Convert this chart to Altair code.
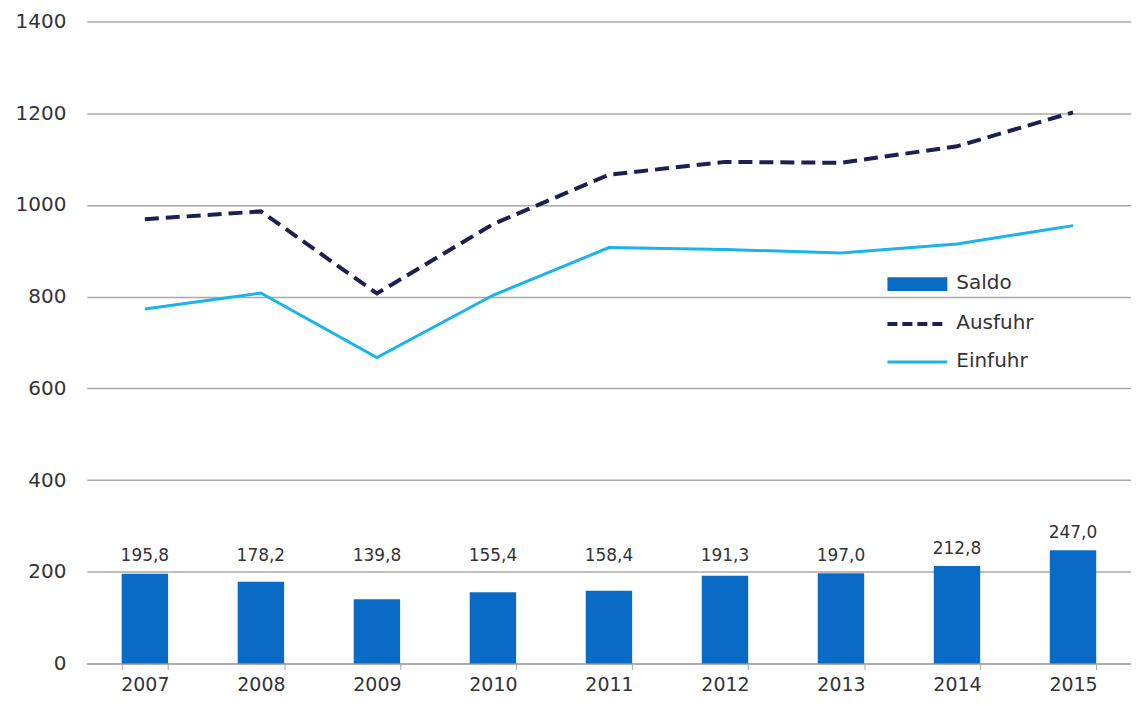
import altair as alt
import pandas as pd

years = ["2007", "2008", "2009", "2010", "2011", "2012", "2013", "2014", "2015"]
saldo = [195.8, 178.2, 139.8, 155.4, 158.4, 191.3, 197.0, 212.8, 247.0]
ausfuhr = [969, 986, 807, 958, 1066, 1094, 1092, 1128, 1202]
einfuhr = [773, 808, 667, 803, 907, 903, 895, 915, 955]
legend_labels = ["Saldo", "Ausfuhr", "Einfuhr"]

bar_color = "#0a6bc6"
aus_color = "#1c1f52"
ein_color = "#1ab3ee"
grid_color = "#a8a8a8"
text_color = "#333333"
font = "DejaVu Sans"

df = pd.DataFrame({"Jahr": years, "Saldo": saldo, "Ausfuhr": ausfuhr, "Einfuhr": einfuhr})

x_enc = alt.X(
    "Jahr:N",
    title=None,
    scale=alt.Scale(paddingInner=0.6, paddingOuter=0.3),
    axis=alt.Axis(
        labelAngle=0, tickBand="extent", grid=False, domainColor=grid_color,
        domainWidth=1.5, tickColor=grid_color, tickSize=6, labelPadding=6,
        labelFontSize=19, labelColor=text_color, labelFont=font,
    ),
)
y_scale = alt.Scale(domain=[0, 1400])
y_axis = alt.Axis(
    values=[0, 200, 400, 600, 800, 1000, 1200, 1400], format="d", grid=True,
    gridColor=grid_color, gridWidth=1.5, domain=False, ticks=False, labelPadding=21,
    labelFontSize=20, labelColor=text_color, labelFont=font, title=None,
)

base = alt.Chart(df)

bars = base.mark_bar(color=bar_color).encode(
    x=x_enc, y=alt.Y("Saldo:Q", scale=y_scale, axis=y_axis)
)
bar_text = base.transform_calculate(
    lbl="replace(format(datum.Saldo, '.1f'), '.', ',')",
    ypos="max(datum.Saldo, 198)",
).mark_text(baseline="alphabetic", dy=-12, fontSize=17, color=text_color, font=font).encode(
    x=x_enc, y=alt.Y("ypos:Q", scale=y_scale), text="lbl:N"
)
aus_line = base.mark_line(color=aus_color, strokeWidth=4, strokeDash=[14, 7]).encode(
    x=x_enc, y=alt.Y("Ausfuhr:Q", scale=y_scale)
)
ein_line = base.mark_line(color=ein_color, strokeWidth=3).encode(
    x=x_enc, y=alt.Y("Einfuhr:Q", scale=y_scale)
)

leg_df = pd.DataFrame({"label": legend_labels})
leg = alt.Chart(leg_df)
leg_rect = leg.transform_filter("datum.label == 'Saldo'").mark_rect(color=bar_color).encode(
    x=alt.value(802), x2=alt.value(862), y=alt.value(256), y2=alt.value(270)
)
leg_aus = leg.transform_filter("datum.label == 'Ausfuhr'").mark_rule(
    color=aus_color, strokeWidth=4, strokeDash=[10, 5]
).encode(x=alt.value(802), x2=alt.value(862), y=alt.value(303))
leg_ein = leg.transform_filter("datum.label == 'Einfuhr'").mark_rule(
    color=ein_color, strokeWidth=3
).encode(x=alt.value(802), x2=alt.value(862), y=alt.value(341))


def leg_text(name, ypix):
    return leg.transform_filter(f"datum.label == '{name}'").mark_text(
        align="left", baseline="middle", fontSize=20, color=text_color, font=font
    ).encode(x=alt.value(871), y=alt.value(ypix), text="label:N")


chart = alt.layer(
    bars, bar_text, aus_line, ein_line, leg_rect, leg_aus, leg_ein,
    leg_text("Saldo", 262), leg_text("Ausfuhr", 302), leg_text("Einfuhr", 340),
).properties(
    width=1046, height=643, padding={"top": 3, "left": 7, "right": 0, "bottom": 0}
).configure_view(stroke=None)

chart.save("out.html", embed_options={"renderer": "svg", "actions": False})
